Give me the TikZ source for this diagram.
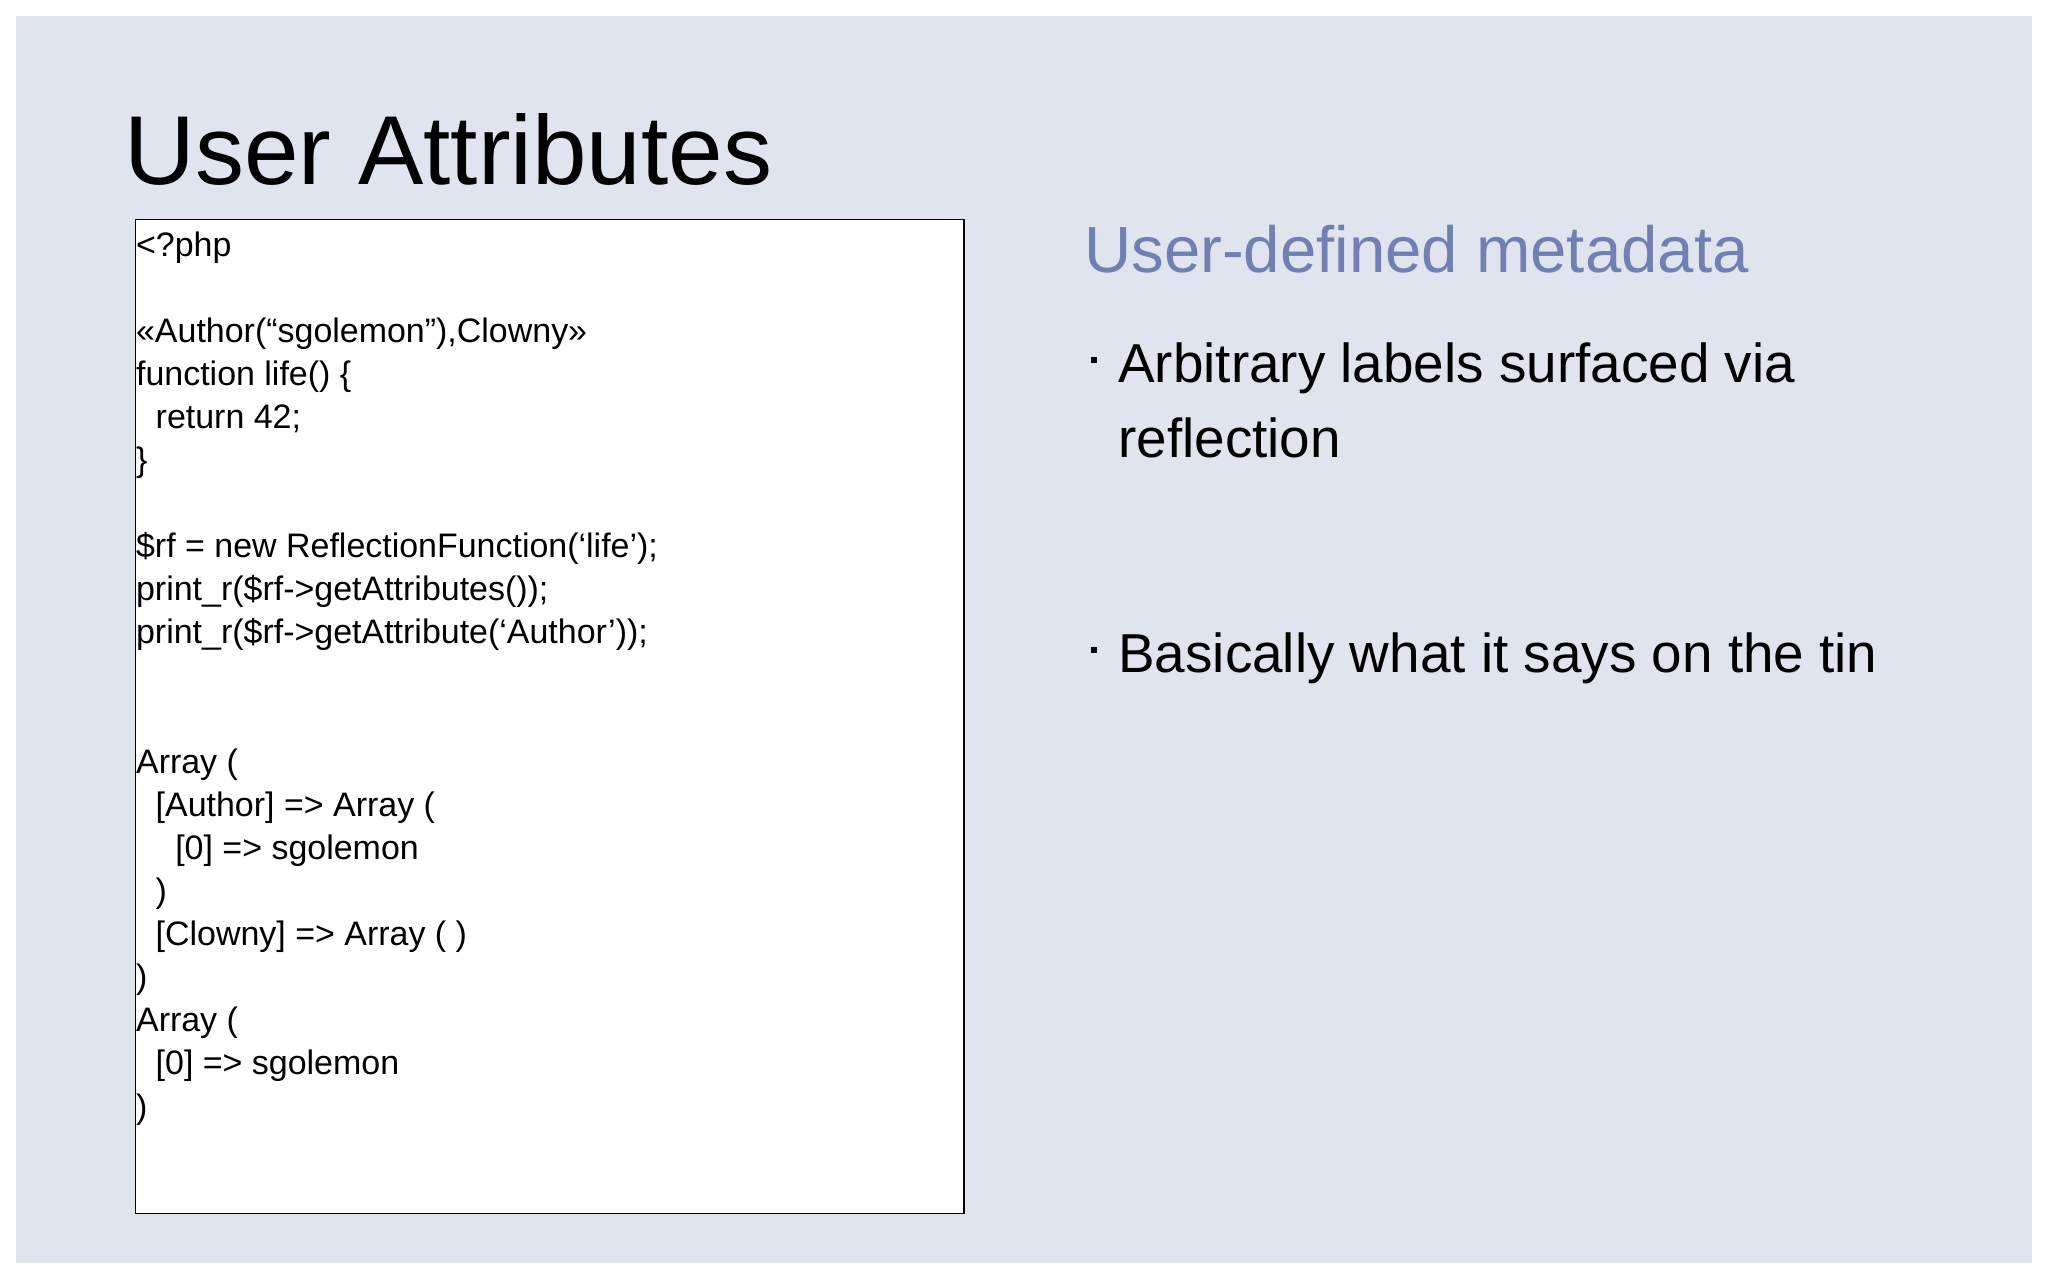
\documentclass[tikz,border=0pt]{standalone}
\usepackage{fontspec}
\setmainfont{Liberation Sans}
\definecolor{slidebg}{HTML}{E0E4EE}
\definecolor{subcol}{HTML}{7080B2}
\begin{document}
\begin{tikzpicture}[x=1pt,y=-1pt,
  code/.style={anchor=base west,inner sep=0pt,font=\fontsize{26}{30}\selectfont},
  bul/.style={anchor=base west,inner sep=0pt,font=\fontsize{42}{50}\selectfont}]
\useasboundingbox (0,0) rectangle (1568,980);
\fill[white] (0,0) rectangle (1568,980);
\fill[slidebg] (12,12) rectangle (1556,967);
\node[anchor=base west,inner sep=0pt,font=\fontsize{75}{80}\selectfont] (title) at (95,141) {User Attributes};
\draw[black,line width=1pt,fill=white] (104,168) rectangle (738,929);
\foreach \i/\ind/\t in {1/0/{<?php},3/0/{<<Author(“sgolemon”),Clowny>>},4/0/{function life() \{},5/1/{return 42;},6/0/{\}},
  8/0/{\$rf = new ReflectionFunction(‘life’);},9/0/{print\_r(\$rf->getAttributes());},10/0/{print\_r(\$rf->getAttribute(‘Author’));},
  13/0/{Array (},14/1/{[Author] => Array (},15/2/{[0] => sgolemon},16/1/{)},17/1/{[Clowny] => Array ( )},18/0/{)},
  19/0/{Array (},20/1/{[0] => sgolemon},21/0/{)}}
  \node[code] (l\i) at ({104+15*\ind},{196+33*(\i-1)}) {\t};
\node[anchor=base west,inner sep=0pt,text=subcol,font=\fontsize{50}{56}\selectfont] (sub) at (830,209) {User-defined metadata};
\fill (835,273) rectangle (840,278);
\node[bul] (b1) at (856,293) {Arbitrary labels surfaced via};
\node[bul] (b1b) at (856,350) {reflection};
\fill (835,495) rectangle (840,500);
\node[bul] (b2) at (856,515) {Basically what it says on the tin};
\end{tikzpicture}
\end{document}
